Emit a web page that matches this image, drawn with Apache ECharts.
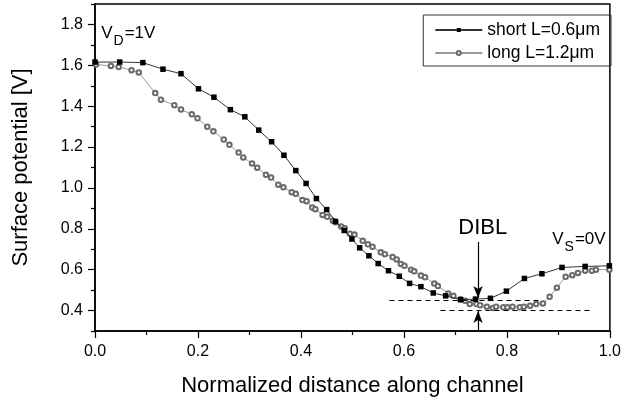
<!DOCTYPE html>
<html><head><meta charset="utf-8">
<script src="https://cdn.jsdelivr.net/npm/echarts@6/dist/echarts.min.js"></script>
<style>html,body{margin:0;padding:0;background:#fff}#c{width:624px;height:402px}</style>
</head><body><div id="c"></div>
<script>
const shortX = [0.0,0.048,0.093,0.132,0.167,0.201,0.231,0.263,0.291,0.318,0.343,0.367,0.390,0.410,0.430,0.450,0.467,0.484,0.499,0.514,0.532,0.550,0.570,0.591,0.611,0.633,0.657,0.681,0.710,0.739,0.768,0.799,0.834,0.868,0.907,0.952,0.999];
const shortY = [1.616,1.616,1.613,1.581,1.559,1.485,1.444,1.383,1.348,1.283,1.226,1.160,1.085,1.022,0.948,0.894,0.836,0.792,0.750,0.707,0.668,0.630,0.595,0.568,0.533,0.517,0.486,0.472,0.453,0.456,0.460,0.495,0.557,0.580,0.611,0.616,0.619];
const longX = [0.002,0.031,0.046,0.071,0.085,0.117,0.128,0.154,0.167,0.188,0.199,0.218,0.230,0.250,0.261,0.279,0.288,0.305,0.315,0.332,0.342,0.356,0.366,0.382,0.390,0.403,0.411,0.422,0.428,0.442,0.451,0.462,0.467,0.478,0.485,0.495,0.504,0.520,0.530,0.539,0.555,0.563,0.578,0.586,0.594,0.601,0.614,0.620,0.633,0.641,0.659,0.666,0.686,0.696,0.710,0.719,0.728,0.741,0.748,0.761,0.773,0.779,0.793,0.801,0.811,0.825,0.833,0.845,0.857,0.870,0.883,0.897,0.914,0.927,0.938,0.952,0.965,0.973,0.999];
const longY = [1.604,1.597,1.592,1.576,1.565,1.464,1.432,1.405,1.384,1.360,1.341,1.300,1.277,1.237,1.211,1.173,1.149,1.120,1.099,1.064,1.051,1.016,1.003,0.979,0.971,0.941,0.935,0.904,0.896,0.868,0.859,0.840,0.832,0.811,0.803,0.776,0.772,0.741,0.724,0.712,0.685,0.676,0.662,0.650,0.628,0.619,0.600,0.592,0.571,0.563,0.532,0.520,0.484,0.472,0.455,0.448,0.432,0.432,0.426,0.419,0.413,0.419,0.416,0.416,0.419,0.416,0.419,0.424,0.432,0.435,0.467,0.512,0.565,0.573,0.584,0.595,0.595,0.600,0.600];
const yMajorTicks = [0.4,0.6,0.8,1.0,1.2,1.4,1.6,1.8];
const yMinorTicks = [0.3,0.5,0.7,0.9,1.1,1.3,1.5,1.7,1.9];
const seriesNames = ['short L=0.6\u03bcm','long L=1.2\u03bcm'];
const dibl = {x:0.744, upperLevel:0.451, lowerLevel:0.403, upperFrom:0.572, upperTo:0.867, lowerFrom:0.671, lowerTo:0.967, arrowTop:0.736, arrowTip:0.462, arrowUpTip:0.398};

const FONT = 'Liberation Sans, Arial, sans-serif';
const chart = echarts.init(document.getElementById('c'), null, {renderer:'canvas'});
const zip = (a,b)=>a.map((v,i)=>[v,b[i]]);
const sub = {v:{fontSize:17,fontFamily:FONT,color:'#000'}, s:{fontSize:14,fontFamily:FONT,color:'#000',padding:[16,1,0,1]}};
chart.setOption({
  animation:false,
  backgroundColor:'#fff',
  grid:{left:95,right:10,top:4,bottom:65,show:true,borderColor:'#000',borderWidth:1.5,backgroundColor:'transparent'},
  legend:{
    orient:'vertical', right:13, top:15, itemWidth:47, itemHeight:5, itemGap:5,
    padding:[6,11,4,11], borderColor:'#333', borderWidth:1, borderRadius:0,
    textStyle:{fontSize:17.5,fontFamily:FONT,color:'#000'},
    data:seriesNames
  },
  xAxis:{
    type:'value', min:0, max:1, interval:0.2,
    axisLine:{lineStyle:{color:'#000',width:1.5}},
    axisTick:{inside:false,length:7,lineStyle:{color:'#000',width:1.2}},
    minorTick:{show:true,splitNumber:2,length:4,lineStyle:{color:'#000',width:1.2}},
    splitLine:{show:false},
    axisLabel:{fontSize:16,fontFamily:FONT,color:'#000',margin:13,formatter:v=>v.toFixed(1)},
    name:'Normalized distance along channel', nameLocation:'middle', nameGap:44,
    nameTextStyle:{fontSize:22,fontFamily:FONT,color:'#000'}
  },
  yAxis:[{
    type:'value', min:0.3, max:1.9,
    axisLine:{lineStyle:{color:'#000',width:1.5}},
    axisTick:{inside:false,length:7,customValues:yMajorTicks,lineStyle:{color:'#000',width:1.2}},
    splitLine:{show:false},
    axisLabel:{fontSize:16,fontFamily:FONT,color:'#000',margin:12,customValues:yMajorTicks,formatter:v=>v.toFixed(1)},
    name:'Surface potential [V]', nameLocation:'middle', nameGap:63,
    nameTextStyle:{fontSize:22,fontFamily:FONT,color:'#000'}
  },{
    type:'value', min:0.3, max:1.9, position:'left',
    axisLine:{show:false},
    axisTick:{show:true,inside:false,length:4,customValues:yMinorTicks,lineStyle:{color:'#000',width:1.2}},
    axisLabel:{show:false}, splitLine:{show:false}
  }],
  series:[{
    name:seriesNames[0], type:'line', data:zip(shortX,shortY),
    symbol:'rect', symbolSize:5.5, showAllSymbol:true,
    lineStyle:{color:'#333',width:1},
    itemStyle:{color:'#000',borderColor:'#000',borderWidth:0},
    z:3
  },{
    name:seriesNames[1], type:'line', data:zip(longX,longY),
    symbol:'emptyCircle', symbolSize:4.5, showAllSymbol:true,
    lineStyle:{color:'#999',width:1},
    itemStyle:{color:'#6a6a6a',borderColor:'#6a6a6a',borderWidth:0.8},
    z:2,
    markLine:{
      silent:true, symbol:['none','none'], animation:false,
      label:{show:false},
      lineStyle:{color:'#000',width:1.2,type:[5,4]},
      data:[
        [{coord:[dibl.upperFrom,dibl.upperLevel]},{coord:[dibl.upperTo,dibl.upperLevel]}],
        [{coord:[dibl.lowerFrom,dibl.lowerLevel]},{coord:[dibl.lowerTo,dibl.lowerLevel]}],
        [{coord:[dibl.x,dibl.arrowTop],lineStyle:{type:'solid',width:1.2}},{coord:[dibl.x,dibl.arrowTip],symbol:'arrow',symbolSize:[7,12]}],
        [{coord:[dibl.x,0.3],lineStyle:{type:'solid',width:1.2}},{coord:[dibl.x,dibl.arrowUpTip],symbol:'arrow',symbolSize:[7,12]}]
      ]
    },
    markPoint:{
      silent:true, symbol:'circle', symbolSize:0, animation:false,
      data:[
        {coord:[0.753,0.802], label:{show:true,position:'inside',formatter:'DIBL',fontSize:22,fontFamily:FONT,color:'#000'}},
        {coord:[0.012,1.755], label:{show:true,position:'right',distance:0,formatter:'{v|V}{s|D}{v|=1V}',rich:sub}},
        {coord:[0.888,0.748], label:{show:true,position:'right',distance:0,formatter:'{v|V}{s|S}{v|=0V}',rich:sub}}
      ]
    }
  }]
});
</script></body></html>
